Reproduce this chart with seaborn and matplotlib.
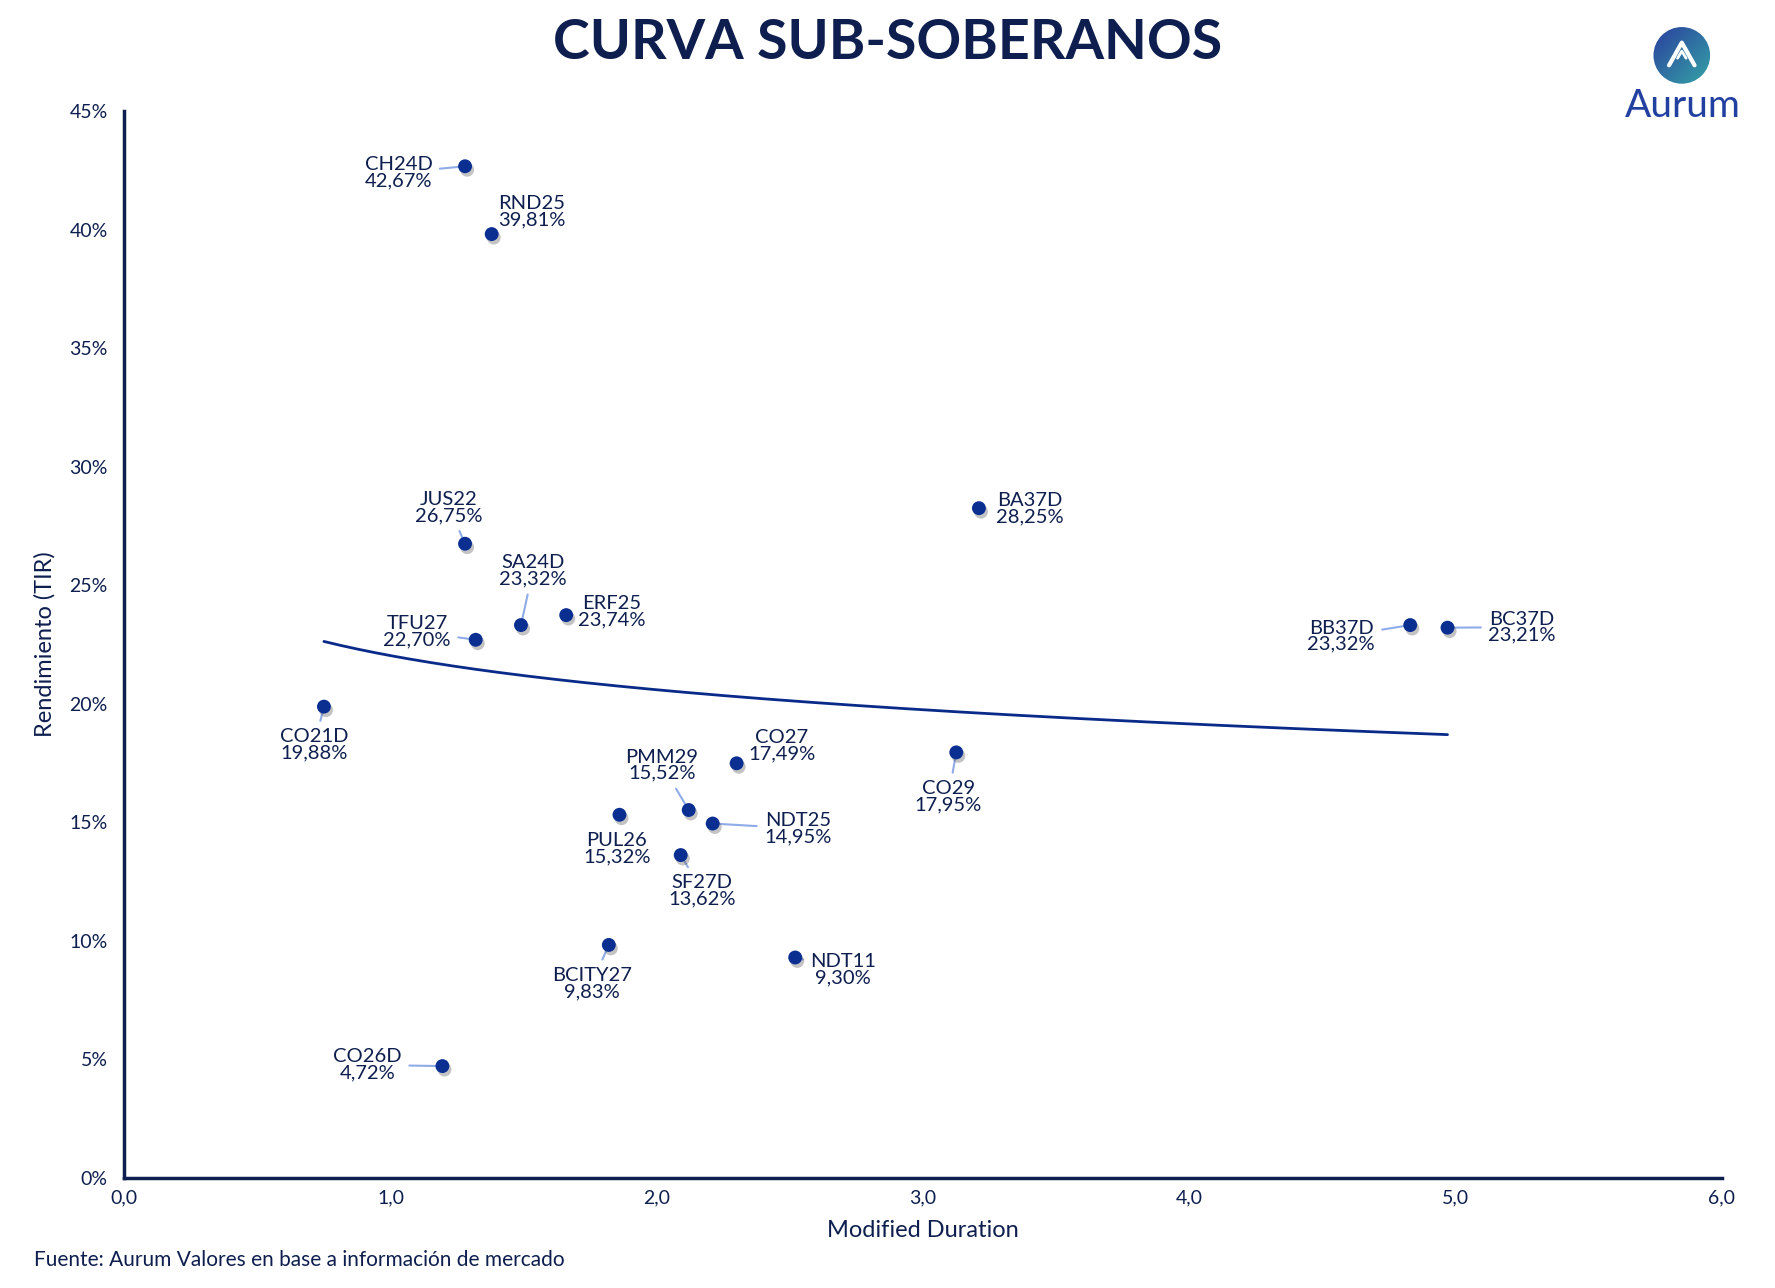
import numpy as np
import pandas as pd
import matplotlib
matplotlib.use('Agg')
import matplotlib.pyplot as plt
import matplotlib.patheffects as pe
from matplotlib.patches import Circle
import seaborn as sns

# datos
bonos = ['CH24D', 'RND25', 'JUS22', 'SA24D', 'ERF25', 'TFU27', 'CO21D', 'BA37D',
         'BB37D', 'BC37D', 'CO27', 'PMM29', 'NDT25', 'PUL26', 'SF27D', 'CO29',
         'BCITY27', 'NDT11', 'CO26D']
duration = [1.28, 1.38, 1.28, 1.49, 1.66, 1.32, 0.75, 3.21,
            4.83, 4.97, 2.30, 2.12, 2.21, 1.86, 2.09, 3.125,
            1.82, 2.52, 1.195]
tir = [42.67, 39.81, 26.75, 23.32, 23.74, 22.70, 19.88, 28.25,
       23.32, 23.21, 17.49, 15.52, 14.95, 15.32, 13.62, 17.95,
       9.83, 9.30, 4.72]

# posicion de las etiquetas (en unidades del grafico)
label_x = [1.03, 1.53, 1.22, 1.535, 1.83, 1.10, 0.714, 3.40,
           4.57, 5.25, 2.47, 2.02, 2.53, 1.85, 2.17, 3.095,
           1.756, 2.70, 0.914]
label_y = [42.4, 40.74, 28.29, 25.62, 23.9, 23.04, 18.27, 28.24,
           22.85, 23.23, 18.23, 17.41, 14.74, 13.88, 12.12, 16.08,
           8.21, 8.78, 4.77]
sin_linea = ['RND25', 'ERF25', 'BA37D', 'CO27', 'PUL26']

df = pd.DataFrame({'Bono': bonos, 'Duration': duration, 'TIR': tir})

# tendencia logaritmica
b, a = np.polyfit(np.log(df['Duration']), df['TIR'], 1)
xs = np.linspace(df['Duration'].min(), df['Duration'].max(), 200)
trend = pd.DataFrame({'x': xs, 'y': a + b * np.log(xs)})

navy = '#0e1f4f'
punto = '#0a2f91'
guia = '#8fabe8'

sns.set_style('white')
plt.rcParams['font.family'] = ['Lato', 'DejaVu Sans']

fig = plt.figure(figsize=(17.75, 12.88), dpi=100)
ax = fig.add_axes([0.070, 0.0854, 0.900, 0.8284])

sns.lineplot(data=trend, x='x', y='y', ax=ax, color='#0a2a8a', linewidth=2.0)
sns.scatterplot(data=df, x='Duration', y='TIR', ax=ax, color=punto, s=100,
                edgecolor='none', zorder=5)
ax.collections[-1].set_path_effects([pe.SimplePatchShadow(offset=(1.5, -2.5), alpha=0.35, shadow_rgbFace='#555555'),
                                     pe.Normal()])

for i, nombre in enumerate(bonos):
    txt = f"{nombre}\n{tir[i]:.2f}%".replace('.', ',')
    props = None
    if nombre not in sin_linea:
        props = dict(arrowstyle='-', color=guia, lw=1.5, shrinkA=3, shrinkB=3)
    ax.annotate(txt, xy=(duration[i], tir[i]), xytext=(label_x[i], label_y[i]),
                ha='center', va='center', fontsize=14.5, color=navy,
                linespacing=0.95, arrowprops=props, zorder=4)

ax.set_xlim(0, 6)
ax.set_ylim(0, 45)
ax.set_xticks(np.arange(0, 7, 1))
ax.set_xticklabels([f"{v:.1f}".replace('.', ',') for v in range(0, 7)])
ax.set_yticks(np.arange(0, 50, 5))
ax.set_yticklabels([f"{v}%" for v in range(0, 50, 5)])
ax.tick_params(axis='both', direction='in', length=4, width=2, color=navy,
               labelsize=14, labelcolor=navy, pad=8)
ax.tick_params(axis='y', pad=12)
for s in ['top', 'right']:
    ax.spines[s].set_visible(False)
for s in ['left', 'bottom']:
    ax.spines[s].set_color(navy)
    ax.spines[s].set_linewidth(2.5)

ax.set_xlabel('Modified Duration', fontsize=17, color=navy, labelpad=10)
ax.set_ylabel('Rendimiento (TIR)', fontsize=17, color=navy, labelpad=10)

fig.text(0.5, 0.967, 'CURVA SUB-SOBERANOS', ha='center', va='center',
         fontsize=40, fontweight='bold', color=navy)
fig.text(0.019, 0.022, 'Fuente: Aurum Valores en base a información de mercado',
         ha='left', va='center', fontsize=15, color=navy)

# logo
lax = fig.add_axes([0.925, 0.935, 0.045, 0.044])
grad = np.linspace(0, 1, 100)
img = np.add.outer(grad[::-1], grad) / 2
lax.imshow(img, cmap=matplotlib.colors.LinearSegmentedColormap.from_list('g', ['#2a3f9e', '#35a3a6']),
           extent=(-1, 1, -1, 1), origin='lower')
clip = Circle((0, 0), 1, transform=lax.transData)
lax.images[0].set_clip_path(clip)
lax.plot([-0.45, 0.0, 0.45], [-0.35, 0.45, -0.35], color='white', lw=3, solid_capstyle='round')
lax.plot([-0.15, 0.0, 0.15], [-0.1, 0.15, -0.1], color='white', lw=2, solid_capstyle='round')
lax.set_xlim(-1, 1)
lax.set_ylim(-1, 1)
lax.set_aspect('equal')
lax.axis('off')
fig.text(0.948, 0.918, 'Aurum', ha='center', va='center', fontsize=28,
         color='#2140a0')

fig.savefig('out.png', dpi=100)
